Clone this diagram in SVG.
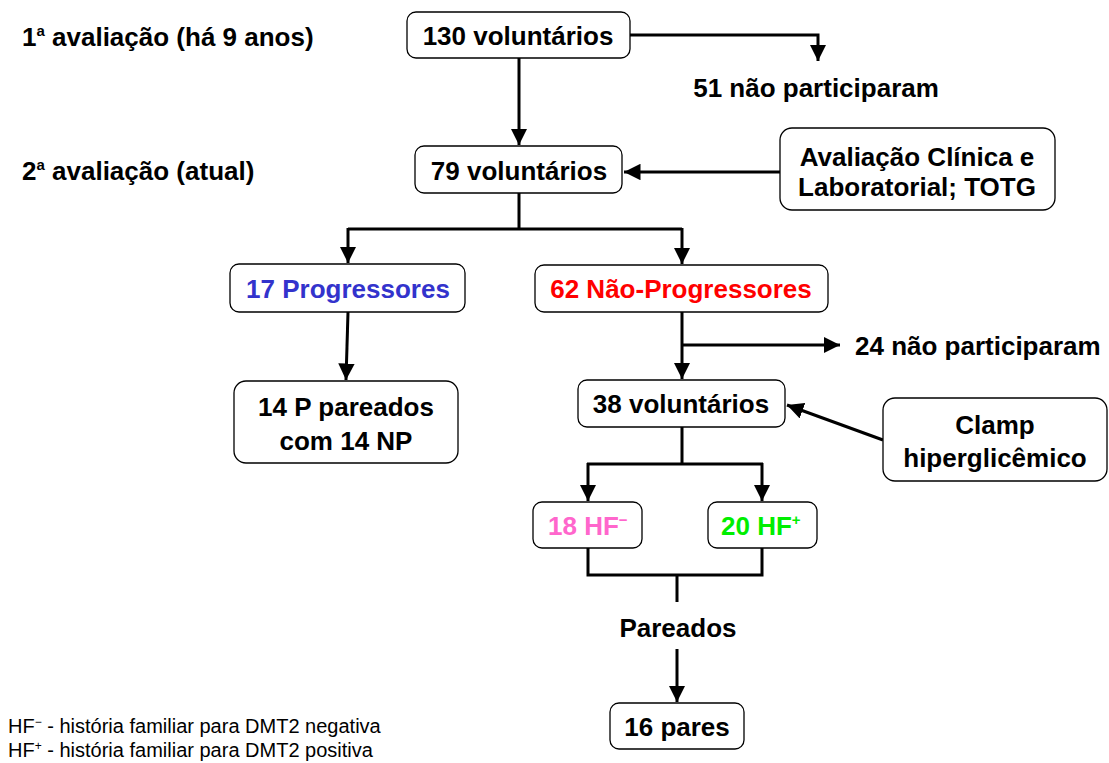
<svg xmlns="http://www.w3.org/2000/svg" width="1109" height="763" viewBox="0 0 1109 763">
<style>
.box{fill:#fff;stroke:#000;stroke-width:1.3}
.t{font-family:"Liberation Sans",Arial,sans-serif;font-weight:bold;font-size:26px;fill:#000}
.c{text-anchor:middle}
.ln{fill:none;stroke:#000;stroke-width:3}
.fn{font-family:"Liberation Sans",Arial,sans-serif;font-size:20px;fill:#000}
</style>
<defs>
<marker id="ah" viewBox="0 0 10 10" refX="10" refY="5" markerWidth="5.5" markerHeight="5.5" orient="auto" markerUnits="strokeWidth">
<path d="M0,0 L10,5 L0,10 z" fill="#000"/>
</marker>
</defs>
<g id="labels">
<text class="t" x="22" y="46">1<tspan font-size="15" dy="-10">a</tspan><tspan dy="10"> avaliação (há 9 anos)</tspan></text>
<text class="t" x="22" y="180">2<tspan font-size="15" dy="-10">a</tspan><tspan dy="10"> avaliação (atual)</tspan></text>
</g>
<g id="connectors">
<path class="ln" d="M519,58 V145" marker-end="url(#ah)"/>
<path class="ln" d="M630,35 H818 V61" marker-end="url(#ah)"/>
<path class="ln" d="M780,172 H624" marker-end="url(#ah)"/>
<path class="ln" d="M519,193 V229 M348,229 H682"/>
<path class="ln" d="M348,228 V263" marker-end="url(#ah)"/>
<path class="ln" d="M682,228 V264" marker-end="url(#ah)"/>
<path class="ln" d="M348,312 L346,380" marker-end="url(#ah)"/>
<path class="ln" d="M682,312 V379" marker-end="url(#ah)"/>
<path class="ln" d="M682,345 H840" marker-end="url(#ah)"/>
<path class="ln" d="M883,440 L787,405" marker-end="url(#ah)"/>
<path class="ln" d="M682,427 V464 M587,464 H763"/>
<path class="ln" d="M588,463 V501" marker-end="url(#ah)"/>
<path class="ln" d="M762,463 V501" marker-end="url(#ah)"/>
<path class="ln" d="M588,548 V575 H762 V548 M677,575 V602"/>
<path class="ln" d="M677,649 V702" marker-end="url(#ah)"/>
</g>
<g id="n130"><rect class="box" x="407" y="12" width="223" height="46" rx="9"/><text class="t c" x="518" y="45">130 voluntários</text></g>
<g id="n51"><text class="t c" x="816" y="97">51 não participaram</text></g>
<g id="n79"><rect class="box" x="415" y="146" width="207" height="47" rx="9"/><text class="t c" x="519" y="180">79 voluntários</text></g>
<g id="nAval"><rect class="box" x="780" y="128" width="275" height="82" rx="12"/><text class="t c" x="917" y="166">Avaliação Clínica e</text><text class="t c" x="917" y="196">Laboratorial; TOTG</text></g>
<g id="nP"><rect class="box" x="230" y="264" width="235" height="48" rx="9"/><text class="t c" x="348" y="298" style="fill:#3333cc">17 Progressores</text></g>
<g id="nNP"><rect class="box" x="535" y="265" width="293" height="47" rx="9"/><text class="t c" x="681" y="298" style="fill:#ff0000">62 Não-Progressores</text></g>
<g id="n14"><rect class="box" x="234" y="381" width="224" height="82" rx="12"/><text class="t c" x="346" y="416">14 P pareados</text><text class="t c" x="346" y="450">com 14 NP</text></g>
<g id="n24"><text class="t" x="855" y="355">24 não participaram</text></g>
<g id="n38"><rect class="box" x="578" y="380" width="207" height="47" rx="9"/><text class="t c" x="681" y="413">38 voluntários</text></g>
<g id="nClamp"><rect class="box" x="883" y="398" width="224" height="83" rx="12"/><text class="t c" x="995" y="434">Clamp</text><text class="t c" x="995" y="467">hiperglicêmico</text></g>
<g id="nHFm"><rect class="box" x="533" y="502" width="109" height="46" rx="9"/><text class="t" x="548" y="535" style="fill:#ff66cc">18 HF<tspan font-size="15" dy="-10">−</tspan></text></g>
<g id="nHFp"><rect class="box" x="708" y="502" width="109" height="46" rx="9"/><text class="t" x="721" y="535" style="fill:#00ee00">20 HF<tspan font-size="15" dy="-10">+</tspan></text></g>
<g id="nPar"><text class="t c" x="678" y="637">Pareados</text></g>
<g id="n16"><rect class="box" x="610" y="703" width="134" height="46" rx="9"/><text class="t c" x="677" y="736">16 pares</text></g>
<g id="legend">
<text class="fn" x="8" y="733">HF<tspan font-size="12" dy="-7">−</tspan><tspan dy="7"> - história familiar para DMT2 negativa</tspan></text>
<text class="fn" x="8" y="757">HF<tspan font-size="12" dy="-7">+</tspan><tspan dy="7"> - história familiar para DMT2 positiva</tspan></text>
</g>
</svg>
